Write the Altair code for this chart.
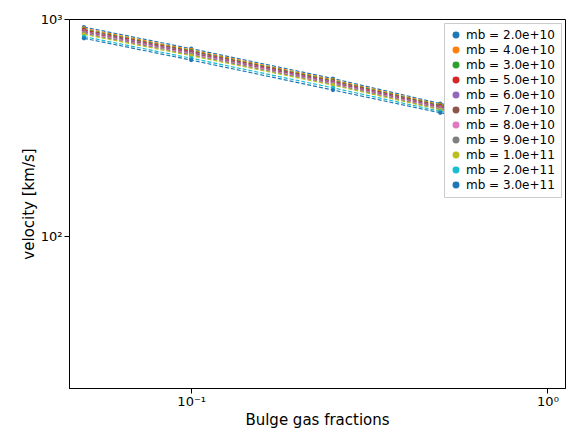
import altair as alt
import pandas as pd

fractions = [0.05, 0.1, 0.25, 0.5, 1.0]
labels = ["mb = 2.0e+10", "mb = 4.0e+10", "mb = 3.0e+10", "mb = 5.0e+10",
          "mb = 6.0e+10", "mb = 7.0e+10", "mb = 8.0e+10", "mb = 9.0e+10",
          "mb = 1.0e+11", "mb = 2.0e+11", "mb = 3.0e+11"]
colors = ["#1f77b4", "#ff7f0e", "#2ca02c", "#d62728", "#9467bd", "#8c564b",
          "#e377c2", "#7f7f7f", "#bcbd22", "#17becf", "#1f77b5"]
velocities = [
    [918, 730, 532, 408, 324],
    [905, 720, 525, 403, 320],
    [895, 713, 520, 400, 318],
    [888, 708, 516, 397, 316],
    [880, 702, 512, 394, 314],
    [872, 696, 508, 391, 312],
    [865, 690, 504, 388, 310],
    [858, 684, 500, 385, 308],
    [850, 678, 496, 382, 306],
    [830, 660, 482, 376, 298],
    [815, 647, 471, 370, 292],
]

rows = []
for lab, vals in zip(labels, velocities):
    for f, v in zip(fractions, vals):
        rows.append({"f": f, "v": v, "mb": lab})
df = pd.DataFrame(rows)

x = alt.X("f:Q", title="Bulge gas fractions",
          scale=alt.Scale(type="log", domain=[0.0454, 1.12], nice=False),
          axis=alt.Axis(values=[0.1, 1], grid=False,
                        labelExpr="datum.value < 0.5 ? '10⁻¹' : '10⁰'"))
y = alt.Y("v:Q", title="velocity [km/s]",
          scale=alt.Scale(type="log", domain=[20, 1000], nice=False),
          axis=alt.Axis(values=[100, 1000], grid=False,
                        labelExpr="datum.value < 500 ? '10²' : '10³'"))
color = alt.Color("mb:N", title=None, sort=labels,
                  scale=alt.Scale(domain=labels, range=colors),
                  legend=alt.Legend(orient="top-right", fillColor="white",
                                    strokeColor="#cccccc", padding=6,
                                    symbolType="circle", symbolSize=30,
                                    labelFontSize=12, rowPadding=3, offset=4))

base = alt.Chart(df)
lines = base.mark_line(strokeDash=[4, 2], strokeWidth=1.2).encode(
    x=x, y=y, color=color, detail="mb:N")
points = base.mark_circle(size=18, opacity=1).encode(x=x, y=y, color=color)

chart = (
    alt.layer(lines, points)
    .properties(width=496, height=369, autosize=alt.AutoSizeParams(type="none"),
                padding={"left": 61, "top": 11, "right": 2, "bottom": 51})
    .configure_view(stroke="black", strokeWidth=1)
    .configure_axis(labelFontSize=13, titleFontSize=15, titleFontWeight="normal",
                    labelColor="black", titleColor="black", domainColor="black",
                    tickColor="black", labelFont="DejaVu Sans", titleFont="DejaVu Sans")
    .configure_legend(labelFont="DejaVu Sans")
)
chart.save("out.html", embed_options={"renderer": "svg", "actions": False})
